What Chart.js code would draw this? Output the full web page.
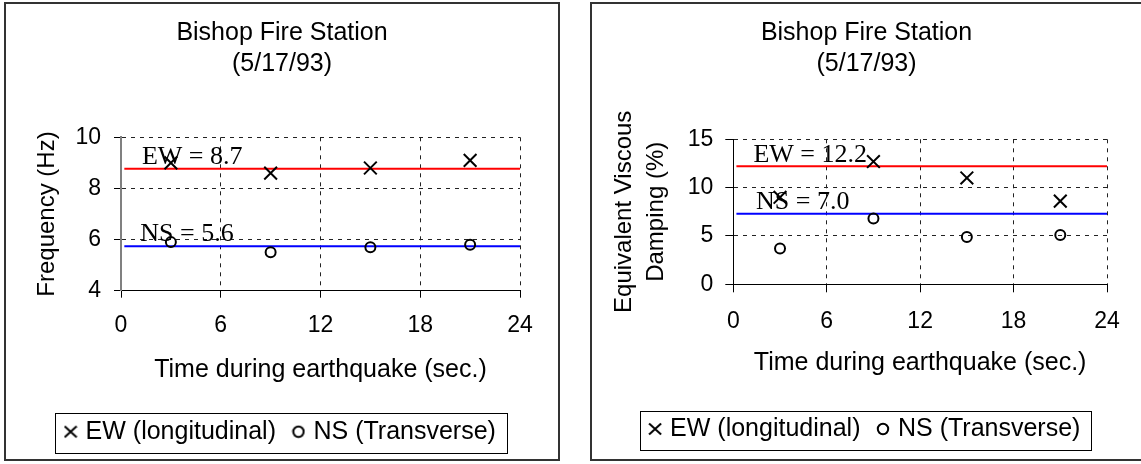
<!DOCTYPE html>
<html>
<head>
<meta charset="utf-8">
<script src="https://cdn.jsdelivr.net/npm/chart.js@4.4.1/dist/chart.umd.min.js"></script>
<style>
  body { margin: 0; background: #fff; width: 1141px; height: 464px; overflow: hidden; position: relative; }
  .box { position: absolute; top: 2px; height: 459px; border: 2px solid #333; box-sizing: border-box; background: #fff; }
  #boxFreq { left: 4px; width: 556px; }
  #boxDamp { left: 590px; width: 553px; }
  canvas { display: block; }
</style>
</head>
<body>
<div class="box" id="boxFreq"><canvas id="freqChart" width="552" height="455"></canvas></div>
<div class="box" id="boxDamp"><canvas id="dampChart" width="549" height="455"></canvas></div>
<script>
const chartTitle = ["Bishop Fire Station", "(5/17/93)"];
const seriesNames = ["EW (longitudinal)", "NS (Transverse)"];
const xTitle = "Time during earthquake (sec.)";
const xTicks = [0, 6, 12, 18, 24];

// time of each reading (sec.)
const timeSec = [3, 9, 15, 21];

// frequency chart
const freqEW = [9.0, 8.6, 8.8, 9.1];
const freqNS = [5.9, 5.5, 5.7, 5.8];
const freqMean = [8.77, 5.74];
const freqTicks = [4, 6, 8, 10];
const freqNotes = ["EW = 8.7", "NS = 5.6"];
const freqNoteX = [1.26, 1.16];
const freqNoteY = [8.95, 5.93];

// damping chart
const dampEW = [9.0, 12.7, 11.0, 8.6];
const dampNS = [3.7, 6.8, 4.9, 5.1];
const dampMean = [12.2, 7.3];
const dampTicks = [0, 5, 10, 15];
const dampNotes = ["EW = 12.2", "NS = 7.0"];
const dampNoteX = [1.29, 1.46];
const dampNoteY = [12.62, 7.76];

const meanSpan = [0.2, 24];

const SANS = "'Liberation Sans', Arial, sans-serif";
const SERIF = "'Liberation Serif', 'Times New Roman', serif";

function markImage(kind) {
  const c = document.createElement("canvas");
  c.width = 14; c.height = 14;
  const g = c.getContext("2d");
  g.strokeStyle = "#000";
  g.lineWidth = 2;
  g.beginPath();
  if (kind === "x") {
    g.moveTo(1, 1.5); g.lineTo(13, 12.5);
    g.moveTo(13, 1.5); g.lineTo(1, 12.5);
  } else {
    g.arc(7, 7, 5.2, 0, Math.PI * 2);
  }
  g.stroke();
  return c;
}
const legendMarks = [markImage("x"), markImage("o")];

const notesPlugin = {
  id: "notes",
  afterDatasetsDraw(chart, args, opts) {
    const ctx = chart.ctx;
    const xs = chart.scales.x, ys = chart.scales.y;
    ctx.save();
    ctx.font = "26px " + SERIF;
    ctx.fillStyle = "#000";
    ctx.textAlign = "left";
    ctx.textBaseline = "alphabetic";
    opts.text.forEach((t, i) => {
      ctx.fillText(t, xs.getPixelForValue(opts.x[i]), ys.getPixelForValue(opts.y[i]));
    });
    ctx.restore();
  }
};

const legendBoxPlugin = {
  id: "legendBox",
  afterDraw(chart) {
    const hb = chart.legend.legendHitBoxes;
    if (!hb || !hb.length) return;
    const first = hb[0], last = hb[hb.length - 1];
    const ctx = chart.ctx;
    const l = Math.round(first.left - 13) + 0.5;
    const r = Math.round(last.left + last.width + 11) + 0.5;
    const t = Math.round(first.top - 6) + 0.5;
    const b = Math.round(first.top + 33.5) + 0.5;
    ctx.save();
    ctx.strokeStyle = "#000";
    ctx.lineWidth = 1;
    ctx.strokeRect(l, t, r - l, b - t);
    ctx.restore();
  }
};

function makeChart(id, ew, ns, mean, yTicks, yTitle, notes, noteX, noteY, lay) {
  const pts = (ys) => timeSec.map((t, i) => ({x: t, y: ys[i]}));
  const span = (v) => meanSpan.map(x => ({x: x, y: v}));

  return new Chart(document.getElementById(id), {
    type: "scatter",
    data: {
      datasets: [
        { label: seriesNames[0], data: pts(ew), pointStyle: "crossRot", pointRadius: 9,
          borderColor: "#000", backgroundColor: "#000", pointBorderWidth: 2, order: 1 },
        { label: seriesNames[1], data: pts(ns), pointStyle: "circle", pointRadius: 5,
          borderColor: "#000", backgroundColor: "rgba(0,0,0,0)", pointBorderWidth: 2, order: 1 },
        { label: "", data: span(mean[0]), showLine: true, pointRadius: 0,
          borderColor: "#ff0000", borderWidth: 2, order: 2 },
        { label: "", data: span(mean[1]), showLine: true, pointRadius: 0,
          borderColor: "#0000ff", borderWidth: 2, order: 2 }
      ]
    },
    options: {
      responsive: false,
      animation: false,
      devicePixelRatio: 1,
      events: [],
      layout: { padding: lay.padding },
      plugins: {
        tooltip: { enabled: false },
        title: {
          display: true,
          text: chartTitle,
          color: "#000",
          font: { family: SANS, size: 25, weight: "normal", lineHeight: 1.25 },
          padding: lay.titlePad
        },
        legend: {
          position: "bottom",
          labels: {
            usePointStyle: true,
            boxWidth: 5,
            boxHeight: 14,
            padding: 20,
            color: "#000",
            font: { family: SANS, size: 25 },
            generateLabels: (chart) => chart.data.datasets
              .map((ds, i) => ({ text: ds.label, datasetIndex: i, pointStyle: legendMarks[i],
                hidden: false, fontColor: "#000", lineWidth: 0,
                strokeStyle: "rgba(0,0,0,0)", fillStyle: "rgba(0,0,0,0)" }))
              .filter(it => it.text)
          }
        },
        notes: { text: notes, x: noteX, y: noteY }
      },
      scales: {
        x: {
          type: "linear",
          min: 0, max: 24,
          afterBuildTicks: (s) => { s.ticks = xTicks.map(v => ({value: v})); },
          afterFit: (s) => { s.height = lay.xHeight; },
          grid: { color: "#222", lineWidth: 1, tickLength: lay.xTickLen,
                  tickColor: "#000", tickBorderDash: [] },
          border: { color: "#000", width: 1, dash: [4, 5] },
          ticks: { color: "#000", padding: lay.xTickPad, maxRotation: 0,
                   font: { family: SANS, size: 23 } },
          title: { display: true, text: xTitle, color: "#000",
                   font: { family: SANS, size: 25 }, padding: { top: 0, bottom: lay.xTitlePad } }
        },
        y: {
          type: "linear",
          min: yTicks[0], max: yTicks[yTicks.length - 1],
          afterBuildTicks: (s) => { s.ticks = yTicks.map(v => ({value: v})); },
          afterFit: (s) => { s.width = lay.yWidth; },
          grid: { color: "#222", lineWidth: 1, tickLength: lay.yTickLen,
                  tickColor: "#000", tickBorderDash: [] },
          border: { color: lay.yBorder, width: lay.yBorderWidth, dash: [4, 5] },
          ticks: { color: "#000", padding: lay.yTickPad,
                   font: { family: SANS, size: 23 } },
          title: { display: true, text: yTitle, color: "#000",
                   font: { family: SANS, size: 24, lineHeight: lay.yTitleLine },
                   padding: { top: lay.yTitlePad, bottom: 0 } }
        }
      }
    },
    plugins: [notesPlugin, legendBoxPlugin]
  });
}

makeChart("freqChart", freqEW, freqNS, freqMean, freqTicks, "Frequency (Hz)",
  freqNotes, freqNoteX, freqNoteY, {
    padding: { top: 0, left: 38, right: 38, bottom: 4.8 },
    titlePad: { top: 13.2, bottom: 57.6 },
    yWidth: 77, xHeight: 108.5,
    yTickLen: 7, yTickPad: 13, xTickLen: 7, xTickPad: 14.5,
    xTitlePad: 14.2, yTitlePad: -11.4, yTitleLine: 1.2,
    yBorder: "#808080", yBorderWidth: 2
  });

makeChart("dampChart", dampEW, dampNS, dampMean, dampTicks, ["Equivalent Viscous", "Damping (%)"],
  dampNotes, dampNoteX, dampNoteY, {
    padding: { top: 0, left: 34, right: 34, bottom: 7.5 },
    titlePad: { top: 13.2, bottom: 59.6 },
    yWidth: 107.3, xHeight: 112.2,
    yTickLen: 8, yTickPad: 12, xTickLen: 8, xTickPad: 15.4,
    xTitlePad: 18.5, yTitlePad: -17.3, yTitleLine: 1.32,
    yBorder: "#000", yBorderWidth: 1
  });
</script>
</body>
</html>
